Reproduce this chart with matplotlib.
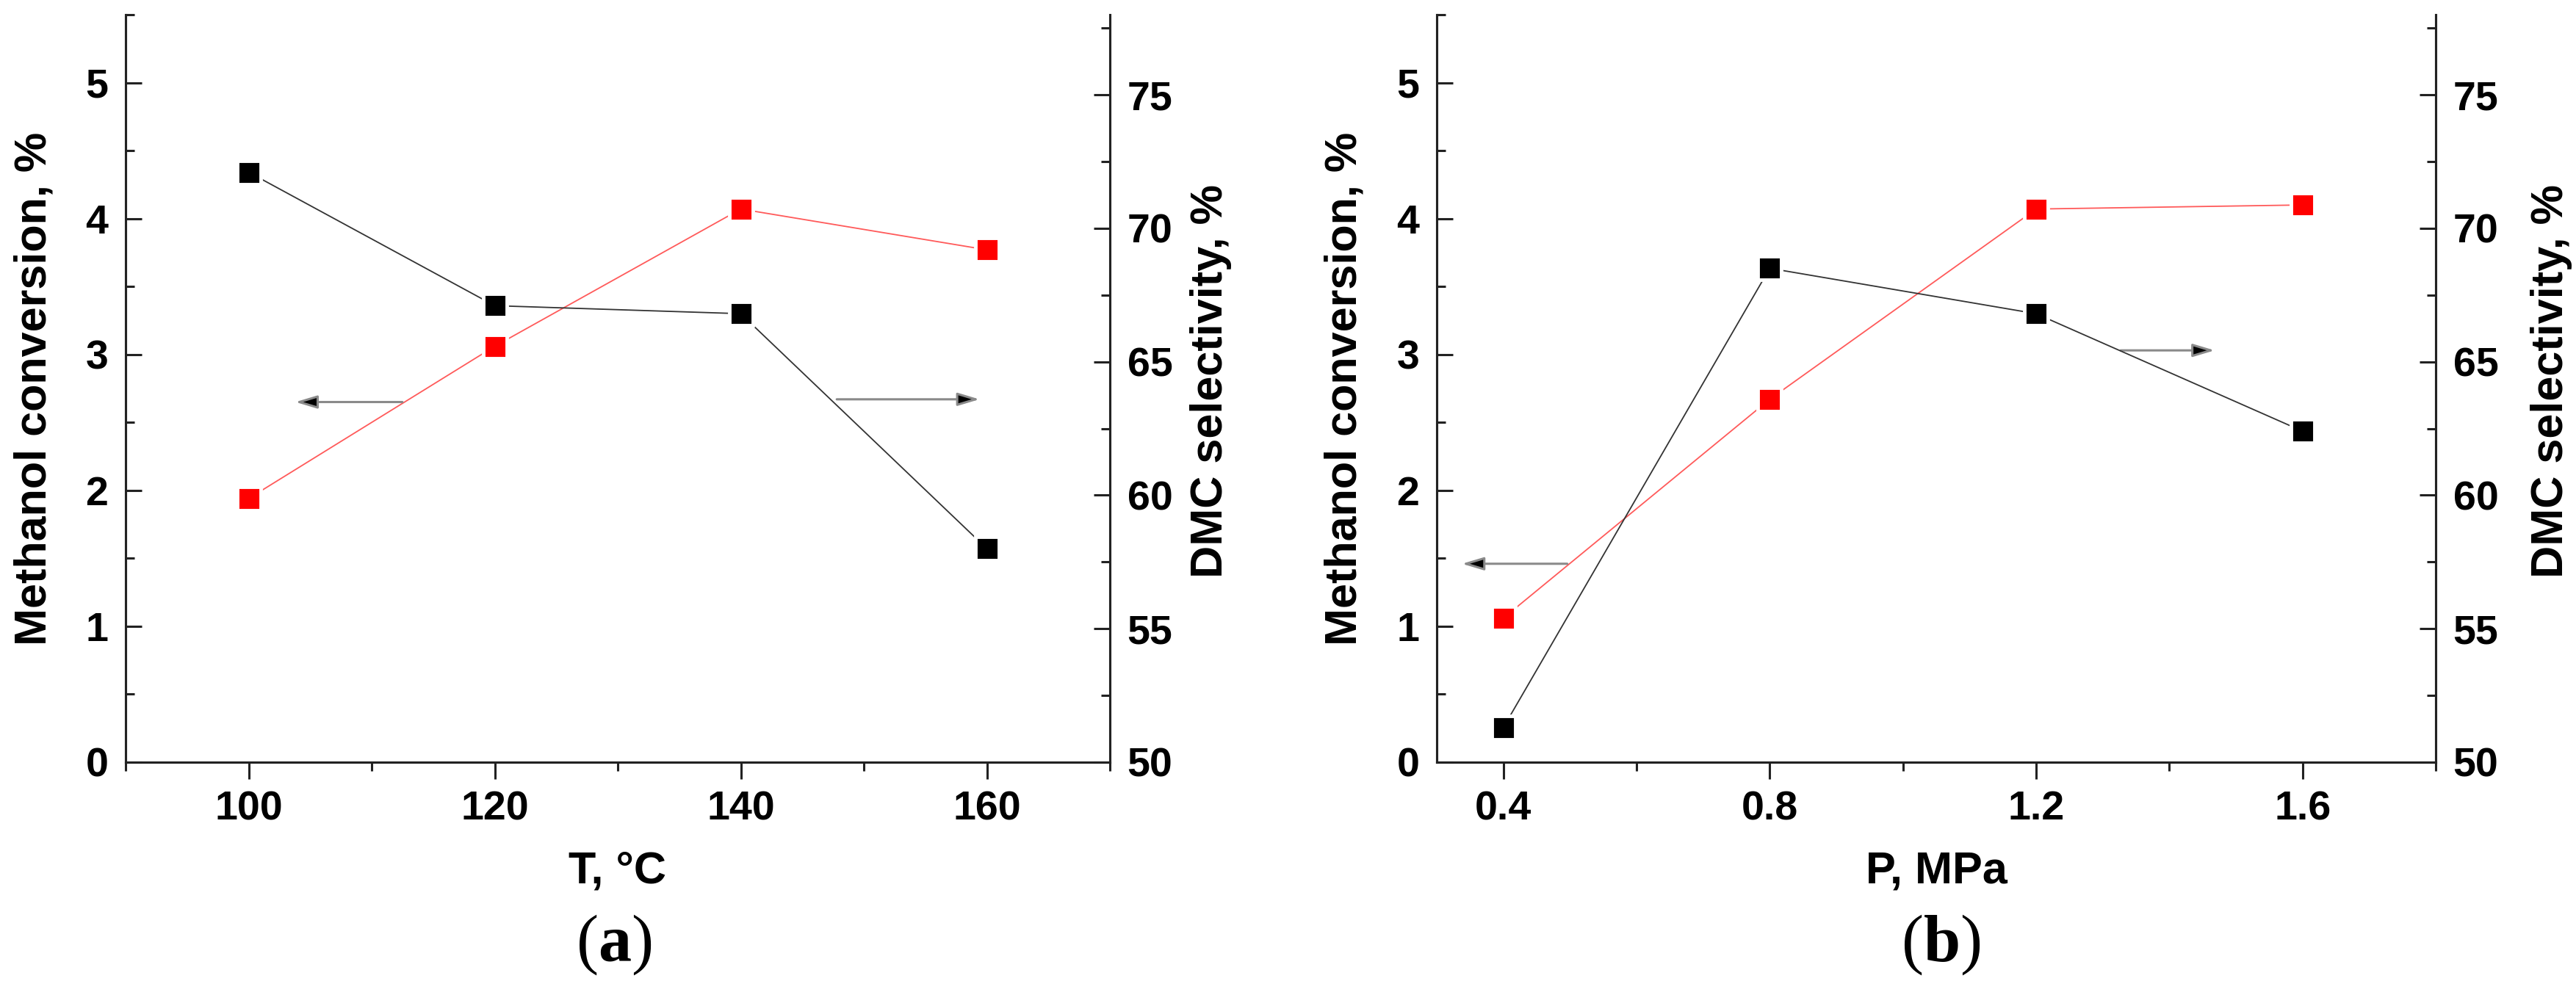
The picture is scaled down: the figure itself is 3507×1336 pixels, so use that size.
import matplotlib
matplotlib.use('Agg')
import matplotlib.pyplot as plt
from matplotlib.ticker import MultipleLocator

plt.rcParams['font.family'] = ['Liberation Sans', 'DejaVu Sans']
plt.rcParams['font.weight'] = 'bold'
plt.rcParams['mathtext.fontset'] = 'custom'
plt.rcParams['mathtext.rm'] = 'Liberation Serif'
plt.rcParams['mathtext.bf'] = 'Liberation Serif:bold'

# datos
temp = [100, 120, 140, 160]
conv_temp = [1.94, 3.06, 4.07, 3.77]
sel_temp = [72.1, 67.1, 66.8, 58.0]

pres = [0.4, 0.8, 1.2, 1.6]
conv_pres = [1.06, 2.67, 4.07, 4.10]
sel_pres = [51.3, 68.5, 66.8, 62.4]

# flechas: (cola x, punta x, y en eje izquierdo)
arrows_temp = [(112.5, 103.8, 2.65), (147.8, 159.4, 2.67)]
arrows_pres = [(0.496, 0.338, 1.46), (1.327, 1.468, 3.03)]

W, H = 3507, 1336
fig = plt.figure(figsize=(W / 100, H / 100), dpi=100)

TICK_FS = 40
LABEL_FS = 44
SPINE_C = '#222222'


def style_axis(ax):
    for s in ax.spines.values():
        s.set_linewidth(2.2)
        s.set_color(SPINE_C)
    ax.spines['top'].set_visible(False)


def draw_panel(rect, x, conv, sel, arrows, xlim, xmaj, xmin, xticklabels,
               xlabel, tag, tag_x, rlabel_x):
    ax = fig.add_axes(rect)
    ax2 = ax.twinx()

    # conversion (eje izquierdo, rojo)
    ax.plot(x, conv, color='#ff5a5a', lw=1.3, marker='s', ms=23.5,
            mfc='red', mec='white', mew=3.5, zorder=3)
    # selectividad (eje derecho, negro)
    ax2.plot(x, sel, color='#333333', lw=1.3, marker='s', ms=23.5,
             mfc='black', mec='white', mew=3.5, zorder=3)

    ax.set_xlim(*xlim)
    ax.set_ylim(0, 5.5)
    ax2.set_ylim(50, 78)

    ax.xaxis.set_major_locator(MultipleLocator(xmaj))
    ax.xaxis.set_minor_locator(MultipleLocator(xmin))
    ax.set_xticks(x)
    ax.set_xticklabels(xticklabels)
    ax.yaxis.set_major_locator(MultipleLocator(1))
    ax.yaxis.set_minor_locator(MultipleLocator(0.5))
    ax2.yaxis.set_major_locator(MultipleLocator(5))
    ax2.yaxis.set_minor_locator(MultipleLocator(2.5))

    ax.tick_params(axis='x', which='major', direction='out', length=16.5,
                   width=2.2, pad=11, labelsize=TICK_FS, color=SPINE_C)
    ax.tick_params(axis='x', which='minor', direction='out', length=8.5,
                   width=2.2, color=SPINE_C)
    ax.tick_params(axis='y', which='major', direction='in', length=16,
                   width=2.2, pad=17, labelsize=TICK_FS, color=SPINE_C)
    ax.tick_params(axis='y', which='minor', direction='in', length=8.5,
                   width=2.2, color=SPINE_C)
    ax2.tick_params(axis='y', which='major', direction='in', length=16,
                    width=2.2, pad=17, labelsize=TICK_FS, color=SPINE_C)
    ax2.tick_params(axis='y', which='minor', direction='in', length=8.5,
                    width=2.2, color=SPINE_C)

    style_axis(ax)
    style_axis(ax2)

    ax.set_xlabel(xlabel, fontsize=LABEL_FS, fontweight='bold')
    ax.set_ylabel('Methanol conversion, %', fontsize=LABEL_FS, fontweight='bold')
    ax2.set_ylabel('DMC selectivity, %', fontsize=LABEL_FS, fontweight='bold')
    ax.xaxis.set_label_coords(0.5, -0.118)
    ax.yaxis.set_label_coords(-0.071, 0.5)
    ax2.yaxis.set_label_coords(rlabel_x, 0.51)

    for x0, x1, y in arrows:
        ax.annotate('', xy=(x1, y), xytext=(x0, y),
                    arrowprops=dict(arrowstyle='-|>,head_length=0.6,head_width=0.18',
                                    mutation_scale=30, lw=2.2, ec='#8a8a8a',
                                    fc='black', shrinkA=0, shrinkB=0))

    fig.text(tag_x, 0.0367, tag, fontsize=65, ha='center', va='center',
             family='Liberation Serif', fontweight='normal')
    return ax, ax2


draw_panel([171 / W, (H - 1038) / H, 1340 / W, 1018 / H],
           temp, conv_temp, sel_temp, arrows_temp,
           (90, 170), 20, 10, ['100', '120', '140', '160'],
           'T, °C', r'($\mathbf{a}$)', 0.2384, 1.081)

draw_panel([1956 / W, (H - 1038) / H, 1360 / W, 1018 / H],
           pres, conv_pres, sel_pres, arrows_pres,
           (0.3, 1.8), 0.4, 0.2, ['0.4', '0.8', '1.2', '1.6'],
           'P, MPa', r'($\mathbf{b}$)', 0.7534, 1.095)

fig.savefig('out.png', dpi=100)
